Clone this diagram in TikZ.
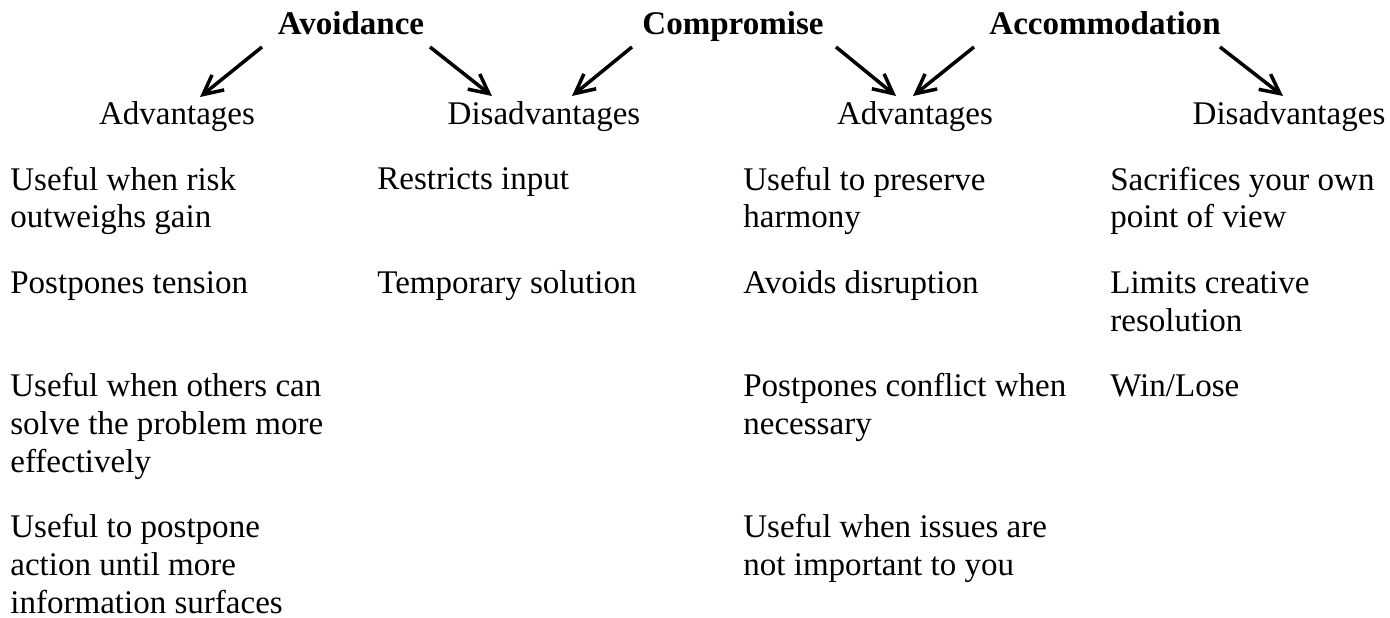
\documentclass[tikz,border=0pt]{standalone}
\usepackage{fontspec}
\setmainfont{Liberation Serif}
\usepackage{tikz}
\usetikzlibrary{arrows.meta, positioning, calc}

\tikzset{
  heading/.style={font=\fontsize{18.8}{21.6}\selectfont\bfseries, inner sep=0pt, anchor=base},
  subhead/.style={font=\fontsize{18.8}{21.6}\selectfont, inner sep=0pt, anchor=base},
  % base of a multi-line item is the baseline of its last line
  item/.style={font=\fontsize{18.8}{21.6}\selectfont, inner sep=0pt, anchor=base west, align=left},
  arr/.style={-{Straight Barb[length=11pt,width=11pt]}, line width=2pt}
}

\begin{document}
\begin{tikzpicture}
\useasboundingbox (0,0) rectangle (27.8,-12.36);

% styles of conflict
\node[heading] (avoid) at (7.02,-0.7) {Avoidance};
\node[heading] (comp) at (14.66,-0.7) {Compromise};
\node[heading] (accom) at (22.1,-0.7) {Accommodation};

\node[subhead] (adv_a) at (3.54,-2.5) {Advantages};
\node[subhead] (dis_a) at (10.88,-2.5) {Disadvantages};
\node[subhead] (adv_b) at (18.3,-2.5) {Advantages};
\node[subhead] (dis_b) at (25.78,-2.5) {Disadvantages};

\draw[arr] ([shift={(-1.78,-0.24)}]avoid.base) -- ([shift={(0.46,0.56)}]adv_a.base);
\draw[arr] ([shift={(1.58,-0.24)}]avoid.base) -- ([shift={(-1.04,0.58)}]dis_a.base);
\draw[arr] ([shift={(-2.02,-0.24)}]comp.base) -- ([shift={(0.56,0.58)}]dis_a.base);
\draw[arr] ([shift={(2.06,-0.24)}]comp.base) -- ([shift={(-0.38,0.58)}]adv_b.base);
\draw[arr] ([shift={(-2.62,-0.24)}]accom.base) -- ([shift={(-0.04,0.58)}]adv_b.base);
\draw[arr] ([shift={(2.3,-0.24)}]accom.base) -- ([shift={(-0.12,0.58)}]dis_b.base);

% first column
\node[item] (a1) at (0.2,-4.56) {Useful when risk\\outweighs gain};
\node[item] (a2) at (0.2,-5.86) {Postpones tension};
\node[item] (a3) at (0.2,-9.44) {Useful when others can\\solve the problem more\\effectively};
\node[item] (a4) at (0.2,-12.26) {Useful to postpone\\action until more\\information surfaces};

% second column
\node[item] (b1) at (7.54,-3.8) {Restricts input};
\node[item] (b2) at (7.54,-5.86) {Temporary solution};

% third column
\node[item] (c1) at (14.86,-4.56) {Useful to preserve\\harmony};
\node[item] (c2) at (14.86,-5.86) {Avoids disruption};
\node[item] (c3) at (14.86,-8.68) {Postpones conflict when\\necessary};
\node[item] (c4) at (14.86,-11.5) {Useful when issues are\\not important to you};

% fourth column
\node[item] (d1) at (22.2,-4.56) {Sacrifices your own\\point of view};
\node[item] (d2) at (22.2,-6.62) {Limits creative\\resolution};
\node[item] (d3) at (22.2,-7.92) {Win/Lose};
\end{tikzpicture}
\end{document}
